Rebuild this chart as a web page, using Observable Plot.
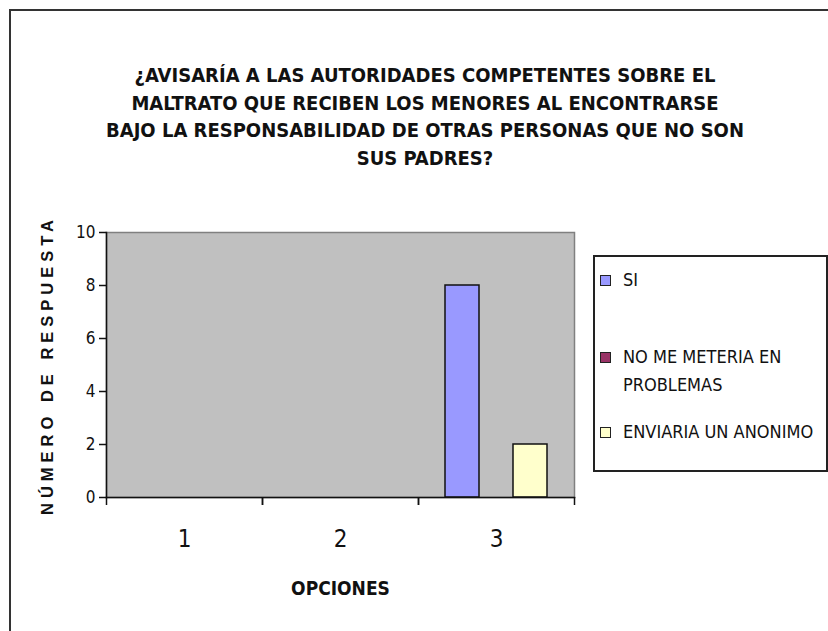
<!DOCTYPE html>
<html><head><meta charset="utf-8">
<script src="https://cdn.jsdelivr.net/npm/d3@7"></script>
<script src="https://cdn.jsdelivr.net/npm/@observablehq/plot@0.6"></script>
<style>
body{margin:0;background:#fff;overflow:hidden}
#wrap{position:relative;width:828px;height:631px;overflow:hidden;background:#fff}
#border{position:absolute;left:9px;top:9px;width:900px;height:700px;border-left:2px solid #333;border-top:2px solid #333}
#chart{position:absolute;left:0;top:0}
#title{position:absolute;left:25px;width:800px;top:62px;text-align:center;font-family:"Liberation Sans Narrow","DejaVu Sans Condensed",sans-serif;font-weight:bold;font-size:20px;line-height:27.5px;color:#111}
#legend{position:absolute;left:593px;top:255px;width:235px;height:217px;box-sizing:border-box;border:2px solid #222;background:#fff;font-family:"Liberation Sans Narrow","DejaVu Sans Condensed",sans-serif;font-size:18px;color:#111}
.item{position:absolute;left:5px;line-height:28px}
.sw{position:absolute;left:0;width:9px;height:9px;border:1px solid #222}
.lt{position:absolute;left:23px;white-space:nowrap}
g[aria-label="y-axis label"] text{letter-spacing:5px}
</style>
</head><body>
<div id="wrap">
  <div id="border"></div>
  <div id="chart"></div>
  <div id="title"></div>
  <div id="legend"></div>
</div>
<script>
const titleLines = [
  "¿AVISARÍA A LAS AUTORIDADES COMPETENTES SOBRE EL",
  "MALTRATO QUE RECIBEN LOS MENORES AL ENCONTRARSE",
  "BAJO LA RESPONSABILIDAD DE OTRAS PERSONAS QUE NO SON",
  "SUS PADRES?"
];
const options = ["1", "2", "3"];
const seriesNames = ["SI", "NO ME METERIA EN PROBLEMAS", "ENVIARIA UN ANONIMO"];
const legendLines = [["SI"], ["NO ME METERIA EN", "PROBLEMAS"], ["ENVIARIA UN ANONIMO"]];
const seriesColors = ["#9999FF", "#993366", "#FFFFCC"];
const siValues = [null, null, 8];
const noMeMeteriaValues = [null, null, 0];
const enviariaValues = [null, null, 2];
const yTicks = [0, 2, 4, 6, 8, 10];
const yLabel = "NÚMERO DE RESPUESTA";
const xLabel = "OPCIONES";

const table = [];
[siValues, noMeMeteriaValues, enviariaValues].forEach((vals, i) =>
  options.forEach((o, j) => table.push({option: o, series: seriesNames[i], value: vals[j]})));

const W = 828, H = 631, mL = 106, mR = 254, mT = 232, mB = 134;
const step = (W - mL - mR) / options.length;
const font = '"Liberation Sans Narrow","DejaVu Sans Condensed",sans-serif';

const chart = Plot.plot({
  width: W, height: H,
  marginLeft: mL, marginRight: mR, marginTop: mT, marginBottom: mB,
  style: {fontFamily: font, background: "transparent", color: "#111", overflow: "visible"},
  fx: {domain: options, padding: 0, label: null, axis: null},
  x: {domain: seriesNames, paddingInner: 0, paddingOuter: 0.75, axis: null},
  y: {domain: [0, 10], label: null},
  color: {domain: seriesNames, range: seriesColors},
  marks: [
    Plot.frame({facet: "super", fill: "#C0C0C0", stroke: "#808080", strokeWidth: 1.5}),
    Plot.barY(table, {fx: "option", x: "series", y: "value", fill: "series", stroke: "#111", strokeWidth: 1.5}),
    Plot.frame({facet: "super", anchor: "left", stroke: "#111", strokeWidth: 1.5}),
    Plot.frame({facet: "super", anchor: "bottom", stroke: "#111", strokeWidth: 1.5}),
    Plot.axisY(yTicks, {tickSize: 7, tickPadding: 4, fontSize: 17, label: null, strokeWidth: 1.5}),
    Plot.axisY({ticks: [], tickSize: 0, tickFormat: null, label: yLabel, labelAnchor: "center", labelArrow: "none",
      labelOffset: 65, fontSize: 16.5, fontWeight: "bold", fontFamily: "Liberation Sans, Arial, sans-serif"}),
    Plot.axisFx({anchor: "bottom", tickSize: 0, tickPadding: 32, fontSize: 24, label: null}),
    Plot.axisFx({anchor: "bottom", ticks: [], tickSize: 0, tickFormat: null, label: xLabel, labelAnchor: "center",
      labelArrow: "none", labelOffset: 97, fontSize: 19, fontWeight: "bold"}),
    Plot.axisFx({anchor: "bottom", tickSize: 8, tickFormat: null, dx: -step / 2, label: null, strokeWidth: 1.5}),
    Plot.axisFx(options.slice(-1), {anchor: "bottom", tickSize: 8, tickFormat: null, dx: step / 2, label: null, strokeWidth: 1.5})
  ]
});
document.getElementById("chart").appendChild(chart);

document.getElementById("title").innerHTML = titleLines.join("<br>");

const legendTops = [9, 86, 161];
const legend = document.getElementById("legend");
legendLines.forEach((lines, i) => {
  const item = document.createElement("div");
  item.className = "item";
  item.style.top = legendTops[i] + "px";
  const sw = document.createElement("div");
  sw.className = "sw";
  sw.style.background = seriesColors[i];
  sw.style.top = "9px";
  const lt = document.createElement("div");
  lt.className = "lt";
  lt.innerHTML = lines.join("<br>");
  item.appendChild(sw);
  item.appendChild(lt);
  legend.appendChild(item);
});
</script>
</body></html>
